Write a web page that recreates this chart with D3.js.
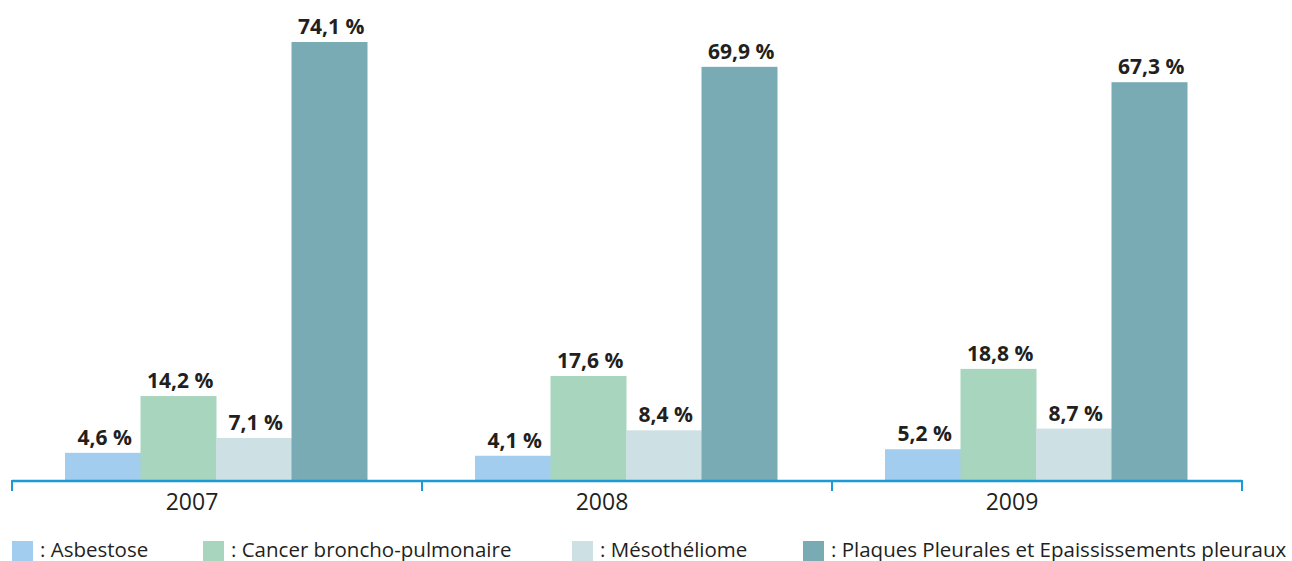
<!DOCTYPE html>
<html>
<head>
<meta charset="utf-8">
<style>
  body { margin: 0; background: #fff; }
  svg { display: block; font-family: "Open Sans", "Noto Sans", sans-serif; }
</style>
</head>
<body>
<svg width="1292" height="561"></svg>
<script src="https://d3js.org/d3.v7.min.js"></script>
<script>
var years = ["2007", "2008", "2009"];
var series = ["Asbestose", "Cancer broncho-pulmonaire", "Mésothéliome", "Plaques Pleurales et Epaississements pleuraux"];
var asbestose = [4.6, 4.1, 5.2];
var cancer = [14.2, 17.6, 18.8];
var meso = [7.1, 8.4, 8.7];
var plaques = [74.1, 69.9, 67.3];
var colors = ["#a3cdee", "#a8d5bd", "#cde0e3", "#79abb5"];

var values = [asbestose, cancer, meso, plaques];
var rows = years.map(function(y, i) {
  return { year: y, vals: values.map(function(s, k) { return { key: series[k], v: s[i], k: k }; }) };
});

var svg = d3.select("svg");
var baseY = 480;

var x0 = d3.scaleBand().domain(years).range([12, 1242]).paddingInner(0).paddingOuter(0);
var x1 = d3.scaleBand().domain(d3.range(series.length)).range([53, 355]).padding(0);
var y = d3.scaleLinear().domain([0, 74.1]).range([baseY, 42]);
var color = d3.scaleOrdinal().domain(d3.range(series.length)).range(colors);

var g = svg.selectAll("g.grp").data(rows).enter().append("g")
  .attr("class", "grp")
  .attr("transform", function(d) { return "translate(" + x0(d.year) + ",0)"; });

g.selectAll("rect").data(function(d) { return d.vals; }).enter().append("rect")
  .attr("x", function(d) { return x1(d.k); })
  .attr("width", x1.bandwidth() + 0.5)
  .attr("y", function(d) { return y(d.v); })
  .attr("height", function(d) { return baseY - y(d.v); })
  .attr("fill", function(d) { return color(d.k); });

g.selectAll("text.val").data(function(d) { return d.vals; }).enter().append("text")
  .attr("class", "val")
  .attr("x", function(d) { return x1(d.k) + x1.bandwidth() / 2 + 2; })
  .attr("y", function(d) { return y(d.v) - 8; })
  .attr("text-anchor", "middle")
  .attr("font-size", 21)
  .attr("font-weight", "bold")
  .attr("fill", "#231f20")
  .text(function(d) { return d.v.toFixed(1).replace(".", ",") + " %"; });

// axis
var axisColor = "#1b9ad6";
svg.append("line")
  .attr("x1", 12).attr("x2", 1242)
  .attr("y1", baseY + 1).attr("y2", baseY + 1)
  .attr("stroke", axisColor).attr("stroke-width", 2.5);
var ticks = years.map(function(yv) { return x0(yv); }).concat([x0.range()[1]]);
svg.selectAll("line.tick").data(ticks).enter().append("line")
  .attr("class", "tick")
  .attr("x1", function(d) { return d; }).attr("x2", function(d) { return d; })
  .attr("y1", baseY).attr("y2", baseY + 11)
  .attr("stroke", axisColor).attr("stroke-width", 2);

svg.selectAll("text.year").data(years).enter().append("text")
  .attr("class", "year")
  .attr("x", function(d) { return x0(d) + 180; })
  .attr("y", 510)
  .attr("text-anchor", "middle")
  .attr("font-size", 23)
  .attr("fill", "#231f20")
  .text(function(d) { return d; });

// legend
var legendX = [12, 203, 572, 803];
var leg = svg.selectAll("g.leg").data(series).enter().append("g")
  .attr("class", "leg")
  .attr("transform", function(d, i) { return "translate(" + legendX[i] + ",541)"; });
leg.append("rect")
  .attr("width", 21).attr("height", 20)
  .attr("fill", function(d, i) { return colors[i]; });
leg.append("text")
  .attr("x", 28).attr("y", 16)
  .attr("font-size", 20.5)
  .attr("fill", "#231f20")
  .text(function(d) { return ": " + d; });
</script>
</body>
</html>
